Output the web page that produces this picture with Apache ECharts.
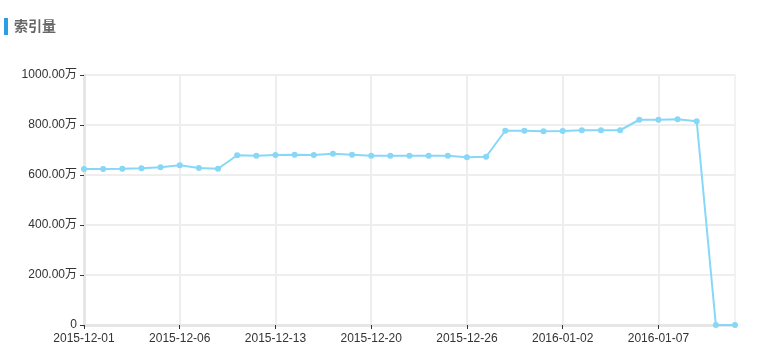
<!DOCTYPE html>
<html><head><meta charset="utf-8">
<script src="https://cdn.jsdelivr.net/npm/echarts@6/dist/echarts.min.js"></script>
<style>html,body{margin:0;padding:0;background:#fff}#c{width:764px;height:361px}</style>
</head><body><div id="c"></div>
<script>
var titleText = '索引量';
var seriesName = '索引量';
var dates = ['2015-12-01','2015-12-02','2015-12-03','2015-12-04','2015-12-05','2015-12-06',
'2015-12-07','2015-12-08','2015-12-09','2015-12-11','2015-12-13',
'2015-12-14','2015-12-15','2015-12-16','2015-12-18','2015-12-20',
'2015-12-21','2015-12-22','2015-12-23','2015-12-24','2015-12-26',
'2015-12-27','2015-12-28','2015-12-29','2015-12-31','2016-01-02',
'2016-01-03','2016-01-04','2016-01-05','2016-01-06','2016-01-07',
'2016-01-08','2016-01-09','2016-01-10','2016-01-11'];
var values = [624,624,625,627,631,639,628,625,679,677,680,681,680,685,681,677,677,677,677,677,671,673,777,777,775,776,779,779,779,821,821,823,815,0,0];
var yTicks = {min:0, max:1000, interval:200};

var chart = echarts.init(document.getElementById('c'));
chart.setOption({
  animation:false,
  title:{text:titleText,left:9,top:14,textStyle:{fontSize:14,fontWeight:'bold',color:'#666',fontFamily:'"Noto Sans CJK SC", sans-serif'}},
  graphic:[{type:'rect',left:4,top:18,shape:{width:4,height:17},style:{fill:'#2a9de6'}}],
  grid:{left:84,right:29,top:75,bottom:36,show:true,borderColor:'#e6e6e6',borderWidth:1},
  xAxis:{type:'category',data:dates,boundaryGap:false,
    axisLine:{lineStyle:{color:'#e6e6e6',width:3}},
    axisTick:{interval:4,length:4,lineStyle:{color:'#333'}},
    axisLabel:{interval:4,color:'#333',fontSize:12,margin:8,fontFamily:'Arial, "Liberation Sans", sans-serif'},
    splitLine:{show:true,interval:4,lineStyle:{color:'#eee',width:2}}},
  yAxis:{type:'value',min:yTicks.min,max:yTicks.max,interval:yTicks.interval,
    axisLine:{show:true,lineStyle:{color:'#e6e6e6',width:3}},
    axisTick:{show:true,length:4,lineStyle:{color:'#333'}},
    axisLabel:{color:'#333',fontSize:12,margin:7,fontFamily:'Arial, "Liberation Sans", "Noto Sans CJK SC", sans-serif',
      formatter:function(v){return v===0?'0':v.toFixed(2)+'万';}},
    splitLine:{lineStyle:{color:'#eee',width:2}}},
  series:[{name:seriesName,type:'line',data:values,symbol:'circle',symbolSize:6,
    lineStyle:{color:'#87d7f7',width:2},itemStyle:{color:'#87d7f7'}}]
});
</script></body></html>
